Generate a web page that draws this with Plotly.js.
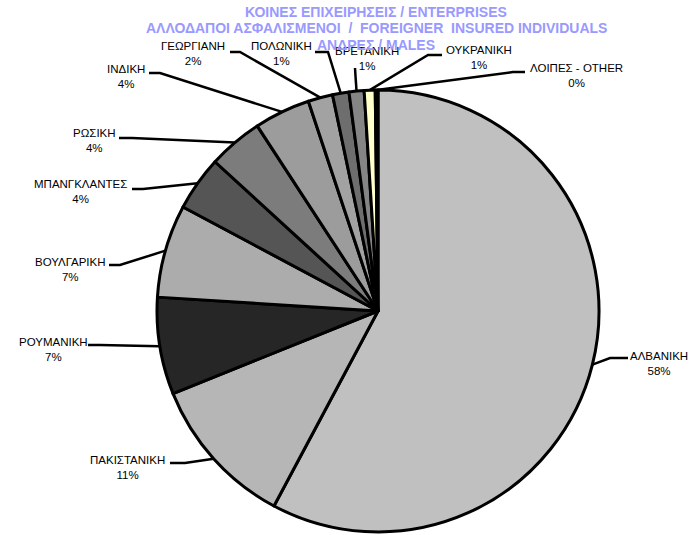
<!DOCTYPE html>
<html><head><meta charset="utf-8">
<script src="https://cdn.plot.ly/plotly-3.0.1.min.js"></script>
<style>html,body{margin:0;padding:0;background:#fff}</style>
</head><body><div id="chart" style="width:691px;height:535px"></div>
<script>
// ---- data ----
const categories = ["ΑΛΒΑΝΙΚΗ","ΠΑΚΙΣΤΑΝΙΚΗ","ΡΟΥΜΑΝΙΚΗ","ΒΟΥΛΓΑΡΙΚΗ","ΜΠΑΝΓΚΛΑΝΤΕΣ","ΡΩΣΙΚΗ","ΙΝΔΙΚΗ","ΓΕΩΡΓΙΑΝΗ","ΠΟΛΩΝΙΚΗ","ΒΡΕΤΑΝΙΚΗ","ΟΥΚΡΑΝΙΚΗ","ΛΟΙΠΕΣ - OTHER"];
const shares = [57.8, 11.1, 7.1, 6.8, 4.0, 4.0, 4.1, 1.8, 1.2, 1.1, 0.8, 0.2];
const titleLines = ["ΚΟΙΝΕΣ ΕΠΙΧΕΙΡΗΣΕΙΣ / ENTERPRISES",
                    "ΑΛΛΟΔΑΠΟΙ ΑΣΦΑΛΙΣΜΕΝΟΙ&nbsp; /&nbsp; FOREIGNER&nbsp; INSURED INDIVIDUALS",
                    "ΑΝΔΡΕΣ / MALES"];

// ---- styles / layout constants ----
const sliceColors = ["#c0c0c0","#b6b6b6","#262626","#acacac","#555555","#7c7c7c","#9c9c9c","#a2a2a2","#6e6e6e","#858585","#ffffcc","#000000"];
const W = 691, H = 535, CX = 378, CY = 311, R = 221;
// label block centers (px), leader attach point (px), elbow point (px)
const labelPos = [[659,363],[128,467],[54,349],[70,269],[80,192],[94,140],[126,77],[193,54],[281,54],[367,59],[479,58],[576,75]];
const attachPos = [[628,358],[170,463],[88,345],[109,265],[132,189],[119,138],[149,73],[230,52],[315,52],[355,68],[442,55],[525,72]];
const elbowPos  = [[610,358],[185,463],[100,345],[120,265],[143,189],[132,138],[160,73],[240,52],[328,52],[355,68],[428,55],[513,72]];
const titleY = [12, 28, 45];

const px = x => x / W, py = y => 1 - y / H;
const total = shares.reduce((a,b)=>a+b,0);

const trace = {
  type: 'pie', labels: categories, values: shares, sort: false,
  direction: 'clockwise', rotation: 0, textinfo: 'none', hoverinfo: 'label+percent',
  showlegend: false,
  marker: {colors: sliceColors, line: {color: '#000', width: 3}},
  domain: {x: [(CX-R)/W, (CX+R)/W], y: [1-(CY+R)/H, 1-(CY-R)/H]}
};

const annotations = [], shapes = [];
let cum = 0;
shares.forEach((v, i) => {
  const th = (cum + v/2) / total * 2 * Math.PI;
  cum += v;
  const rx = CX + R * Math.sin(th), ry = CY - R * Math.cos(th);
  const pct = Math.round(v / total * 100);
  annotations.push({xref:'paper', yref:'paper', x: px(labelPos[i][0]), y: py(labelPos[i][1]),
    xanchor:'center', yanchor:'middle', showarrow:false,
    text: categories[i] + '<br>' + pct + '%',
    font:{family:'Liberation Sans, Arial, sans-serif', size:11.5, color:'#000'}});
  const e = elbowPos[i], a = attachPos[i];
  shapes.push({type:'path', xref:'paper', yref:'paper',
    path: `M ${px(rx)} ${py(ry)} L ${px(e[0])} ${py(e[1])} L ${px(a[0])} ${py(a[1])}`,
    line:{color:'#000', width:2.5}});
});
titleLines.forEach((t, i) => {
  annotations.push({xref:'paper', yref:'paper', x: px(376), y: py(titleY[i]),
    xanchor:'center', yanchor:'middle', showarrow:false, text:'<b>'+t+'</b>',
    font:{family:'Liberation Sans, Arial, sans-serif', size:14, color:'#9999ff'}});
});

const layout = {width: W, height: H, margin:{l:0,r:0,t:0,b:0},
  paper_bgcolor:'#fff', plot_bgcolor:'#fff', showlegend:false,
  annotations: annotations, shapes: shapes};
Plotly.newPlot('chart', [trace], layout, {staticPlot:true});
</script></body></html>
